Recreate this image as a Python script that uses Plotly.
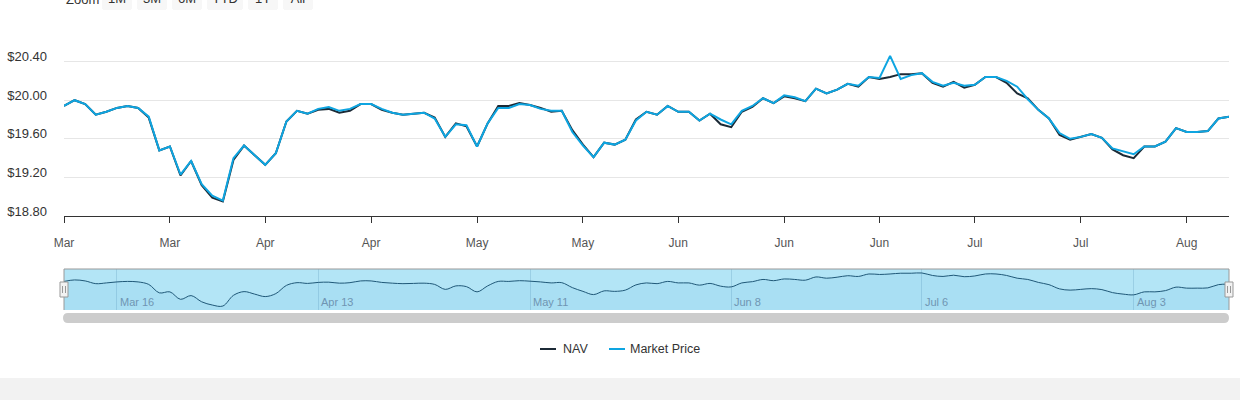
import pandas as pd
import plotly.graph_objects as go

# trading days shown, Mar 9 to Aug 14 2020 (holidays + one missing day dropped)
start_day = "2020-03-09"
end_day = "2020-08-14"
closed_days = ["2020-04-10", "2020-05-25", "2020-06-19", "2020-07-03"]

nav = [
    19.94, 20.00, 19.96, 19.85, 19.88, 19.92, 19.94, 19.92, 19.82, 19.48,
    19.52, 19.22, 19.37, 19.12, 18.99, 18.95, 19.38, 19.53, 19.43, 19.33,
    19.45, 19.78, 19.89, 19.86, 19.90, 19.91, 19.87, 19.89, 19.96, 19.96,
    19.90, 19.87, 19.85, 19.86, 19.87, 19.82, 19.62, 19.76, 19.73, 19.52,
    19.76, 19.94, 19.94, 19.97, 19.95, 19.92, 19.88, 19.89, 19.69, 19.54,
    19.41, 19.56, 19.54, 19.59, 19.80, 19.88, 19.85, 19.94, 19.88, 19.88,
    19.79, 19.86, 19.75, 19.72, 19.88, 19.93, 20.02, 19.97, 20.04, 20.02,
    19.99, 20.12, 20.07, 20.11, 20.17, 20.14, 20.24, 20.22, 20.24, 20.27,
    20.27, 20.28, 20.18, 20.14, 20.19, 20.13, 20.16, 20.24, 20.24, 20.18,
    20.07, 20.02, 19.90, 19.81, 19.64, 19.59, 19.62, 19.65, 19.61, 19.49,
    19.43, 19.40, 19.52, 19.52, 19.57, 19.71, 19.67, 19.67, 19.68, 19.81,
    19.83,
]
market_price = [
    19.94, 20.00, 19.96, 19.85, 19.88, 19.92, 19.94, 19.92, 19.83, 19.48,
    19.52, 19.23, 19.37, 19.13, 19.01, 18.96, 19.40, 19.53, 19.43, 19.33,
    19.45, 19.78, 19.89, 19.86, 19.91, 19.93, 19.89, 19.91, 19.96, 19.96,
    19.91, 19.87, 19.85, 19.86, 19.87, 19.81, 19.62, 19.75, 19.74, 19.52,
    19.76, 19.92, 19.92, 19.96, 19.95, 19.91, 19.89, 19.89, 19.67, 19.53,
    19.41, 19.56, 19.54, 19.59, 19.79, 19.88, 19.85, 19.94, 19.88, 19.88,
    19.79, 19.86, 19.80, 19.75, 19.89, 19.94, 20.02, 19.97, 20.05, 20.03,
    19.99, 20.12, 20.07, 20.11, 20.17, 20.15, 20.24, 20.23, 20.46, 20.22,
    20.26, 20.28, 20.19, 20.15, 20.18, 20.15, 20.16, 20.24, 20.24, 20.20,
    20.14, 20.01, 19.90, 19.81, 19.66, 19.60, 19.62, 19.65, 19.61, 19.50,
    19.47, 19.44, 19.52, 19.52, 19.57, 19.71, 19.67, 19.67, 19.68, 19.81,
    19.83,
]

price_ticks = [18.8, 19.2, 19.6, 20.0, 20.4, 20.8]
price_labels = ["$18.80", "$19.20", "$19.60", "$20.00", "$20.40", ""]
month_ticks = ["2020-03-09", "2020-03-23", "2020-04-03", "2020-04-20", "2020-05-04", "2020-05-18",
               "2020-06-01", "2020-06-15", "2020-06-29", "2020-07-13", "2020-07-27", "2020-08-10"]
navigator_ticks = ["2020-03-16", "2020-04-13", "2020-05-11", "2020-06-08", "2020-07-06", "2020-08-03"]
navigator_labels = ["Mar 16", "Apr 13", "May 11", "Jun 8", "Jul 6", "Aug 3"]
zoom_buttons = [("1M", 1, "month"), ("3M", 3, "month"), ("6M", 6, "month"),
                ("YTD", 1, "year"), ("1Y", 1, "year"), ("All", 1, "all")]

dates = [d for d in pd.bdate_range(start_day, end_day) if d.strftime("%Y-%m-%d") not in closed_days]

NAV_COLOR = "#1c2a36"
PRICE_COLOR = "#0ea5e1"
FONT = "Liberation Sans, Arial, sans-serif"

fig = go.Figure()
fig.add_trace(go.Scatter(x=dates, y=nav, name="NAV", mode="lines",
                         line=dict(color=NAV_COLOR, width=2)))
fig.add_trace(go.Scatter(x=dates, y=market_price, name="Market Price", mode="lines",
                         line=dict(color=PRICE_COLOR, width=2)))
# navigator series
fig.add_trace(go.Scatter(x=dates, y=nav, mode="lines", xaxis="x2", yaxis="y2",
                         line=dict(color="#1f5878", width=1, shape="spline"),
                         fill="tozeroy", fillcolor="rgba(0,110,190,0.05)", showlegend=False))

breaks = [dict(bounds=["sat", "mon"]), dict(values=closed_days)]

buttons = []
for label, count, step in zoom_buttons:
    if step == "all":
        buttons.append(dict(label=label, step="all"))
    elif label == "YTD":
        buttons.append(dict(label=label, count=count, step=step, stepmode="todate"))
    else:
        buttons.append(dict(label=label, count=count, step=step, stepmode="backward"))

fig.update_layout(
    width=1240, height=400,
    margin=dict(l=64, r=11, t=23, b=22, autoexpand=False),
    paper_bgcolor="white", plot_bgcolor="white",
    showlegend=False,
    font=dict(family=FONT, size=12, color="#333333"),
    xaxis=dict(
        domain=[0, 1], anchor="y",
        range=[dates[0], dates[-1]],
        rangebreaks=breaks,
        tickvals=month_ticks, tickformat="%b",
        ticks="outside", ticklen=6, tickcolor="#333333",
        showline=True, linecolor="#333333", linewidth=1,
        showgrid=False, zeroline=False,
        tickfont=dict(size=12, color="#555555"),
        ticklabelstandoff=10,
        rangeslider=dict(visible=False),
        rangeselector=dict(
            buttons=buttons,
            x=(102 - 64) / 1165, xanchor="left",
            y=1 + 13 / 355, yanchor="bottom",
            bgcolor="#f7f7f7", activecolor="#f7f7f7",
            borderwidth=0,
            font=dict(size=13, color="#333333"),
        ),
    ),
    yaxis=dict(
        domain=[(378 - 216) / 355, 1], anchor="x",
        range=[18.8, 20.8],
        tickvals=price_ticks, ticktext=price_labels,
        showgrid=True, gridcolor="#e6e6e6", gridwidth=1,
        zeroline=False, showline=False, ticks="",
        ticklabelstandoff=16, ticklabelshift=-5,
        tickfont=dict(size=13, color="#333333"),
    ),
    xaxis2=dict(
        domain=[0, 1], anchor="y2",
        range=[dates[0], dates[-1]],
        rangebreaks=breaks,
        tickvals=navigator_ticks, showticklabels=False,
        showgrid=True, gridcolor="rgba(70,130,170,0.22)", gridwidth=1,
        zeroline=False, showline=False, ticks="",
    ),
    yaxis2=dict(
        domain=[(378 - 310) / 355, (378 - 269) / 355], anchor="x2",
        range=[18.79, 20.44],
        showgrid=False, zeroline=False, showticklabels=False, ticks="",
    ),
)

shapes = [
    # page strip below chart
    dict(type="rect", xref="paper", yref="paper", x0=-0.1, x1=1.1, y0=-0.2, y1=0,
         fillcolor="#f2f2f2", line=dict(width=0), layer="below"),
    # navigator mask
    dict(type="rect", xref="x2 domain", yref="y2 domain", x0=0, x1=1, y0=0, y1=1,
         fillcolor="#b3e5f6", line=dict(width=0), layer="below"),
    # navigator outline
    dict(type="line", xref="x2 domain", yref="y2 domain", x0=0, x1=1, y0=1, y1=1,
         line=dict(color="#999999", width=1)),
    dict(type="line", xref="x2 domain", yref="y2 domain", x0=0, x1=0, y0=0, y1=1,
         line=dict(color="#999999", width=1)),
    dict(type="line", xref="x2 domain", yref="y2 domain", x0=1, x1=1, y0=0, y1=1,
         line=dict(color="#999999", width=1)),
    # scrollbar
    dict(type="path", xref="paper", yref="paper", xsizemode="pixel", ysizemode="pixel",
         xanchor=-1 / 1165, yanchor=(378 - 318) / 355,
         path="M 5,5 L 1161,5 Q 1166,5 1166,0 Q 1166,-5 1161,-5 L 5,-5 Q 0,-5 0,0 Q 0,5 5,5 Z",
         fillcolor="#cccccc", line=dict(width=0)),
]
# navigator handles
for anchor in [0, 1]:
    shapes.append(dict(type="rect", xref="x2 domain", yref="y2 domain",
                       xsizemode="pixel", ysizemode="pixel", xanchor=anchor, yanchor=0.5,
                       x0=-4, x1=4, y0=-7.5, y1=7.5,
                       fillcolor="#f2f2f2", line=dict(color="#999999", width=1)))
    for dx in [-1.5, 1.5]:
        shapes.append(dict(type="line", xref="x2 domain", yref="y2 domain",
                           xsizemode="pixel", ysizemode="pixel", xanchor=anchor, yanchor=0.5,
                           x0=dx, x1=dx, y0=-3.5, y1=3.5,
                           line=dict(color="#999999", width=1)))

# legend
legend_y = (378 - 349) / 355
for (x0, x1), color in [((540, 556), NAV_COLOR), ((609, 625), PRICE_COLOR)]:
    shapes.append(dict(type="line", xref="paper", yref="paper",
                       x0=(x0 - 64) / 1165, x1=(x1 - 64) / 1165, y0=legend_y, y1=legend_y,
                       line=dict(color=color, width=2)))

annotations = [
    dict(text="Zoom", xref="paper", yref="paper", x=0, y=1 + 24 / 355,
         xanchor="left", yanchor="middle", showarrow=False,
         font=dict(size=13, color="#333333")),
    dict(text="NAV", xref="paper", yref="paper", x=(561 - 64) / 1165, y=legend_y,
         xanchor="left", yanchor="middle", showarrow=False,
         font=dict(size=12.5, color="#333333")),
    dict(text="Market Price", xref="paper", yref="paper", x=(628 - 64) / 1165, y=legend_y,
         xanchor="left", yanchor="middle", showarrow=False,
         font=dict(size=12.5, color="#333333")),
]
for day, label in zip(navigator_ticks, navigator_labels):
    annotations.append(dict(text=label, xref="x2", yref="y2 domain", x=day, y=0.2,
                            xanchor="left", yanchor="middle", xshift=1, showarrow=False,
                            font=dict(size=11, color="#6f95b2")))

fig.update_layout(shapes=shapes, annotations=annotations)

# the page sits flush with the window edge, like the original widget
fig.write_html("out.html", config={"displayModeBar": False},
               post_script="document.body.style.margin='0';")
